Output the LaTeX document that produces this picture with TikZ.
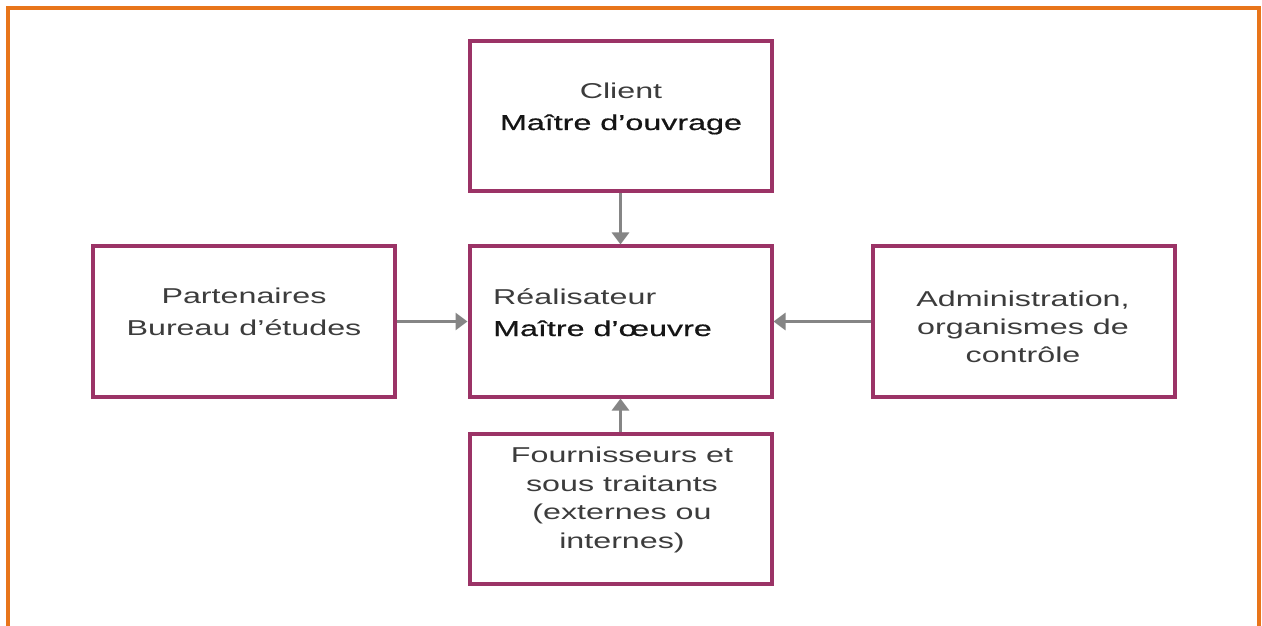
\documentclass[tikz,border=0pt]{standalone}
\usepackage{fontspec}
\setmainfont{Liberation Sans}[FakeStretch=1.5]
\newfontfamily\medfont{Liberation Sans}[FakeStretch=1.5,FakeBold=0.6]
\usetikzlibrary{arrows.meta}
\definecolor{frameorange}{HTML}{E8751A}
\definecolor{boxpurple}{HTML}{9B3366}
\definecolor{arrowgray}{HTML}{858585}
\definecolor{textgray}{HTML}{3C3C3C}
\definecolor{textdark}{HTML}{151515}
\tikzset{
  box/.style={draw=boxpurple, line width=4pt, minimum width=302pt, minimum height=150pt, inner sep=0pt},
  lbl/.style={inner sep=0pt, text=textgray, font=\fontsize{21.5}{31.5}\selectfont},
  lblthree/.style={lbl, font=\fontsize{21.5}{28.5}\selectfont},
  flow/.style={draw=arrowgray, line width=3.8pt, -{Triangle[length=12pt,width=17pt]}}
}
\begin{document}
\begin{tikzpicture}[x=1pt,y=1pt]
\clip (0,0) rectangle (1262,625);
\fill[white] (0,0) rectangle (1262,625);
% outer frame, open at the bottom edge
\draw[frameorange, line width=4pt] (8,-20) rectangle (1259,617);

% boxes
\node[box] (client) at (620.5,508.5) {};
\node[box] (real)   at (620.5,303.5) {};
\node[box] (fourn)  at (620.5,116.5) {};
\node[box] (part)   at (243.5,303.5) {};
\node[box] (admin)  at (1024,303.5) {};

% texts (anchored on the baseline of their last line)
\node[lbl, anchor=base, align=center] (clientT) at (621,495)
  {Client\\{\medfont\color{textdark}Maître d’ouvrage}};
\node[lbl, anchor=base west, align=left] (realT) at (493,289)
  {Réalisateur\\{\medfont\color{textdark}Maître d’œuvre}};
\node[lbl, anchor=base, align=center] (partT) at (244,290)
  {Partenaires\\Bureau d’études};
\node[lblthree, anchor=base, align=center] (adminT) at (1023,262)
  {Administration,\\organismes de\\contrôle};
\node[lblthree, anchor=base, align=center] (fournT) at (622,77)
  {Fournisseurs et\\sous traitants\\(externes ou\\internes)};

% connectors
\draw[flow] (client.south) -- (real.north);
\draw[flow] (fourn.north) -- (real.south);
\draw[flow] (part.east) -- (real.west);
\draw[flow] (admin.west) -- (real.east);
\end{tikzpicture}
\end{document}
